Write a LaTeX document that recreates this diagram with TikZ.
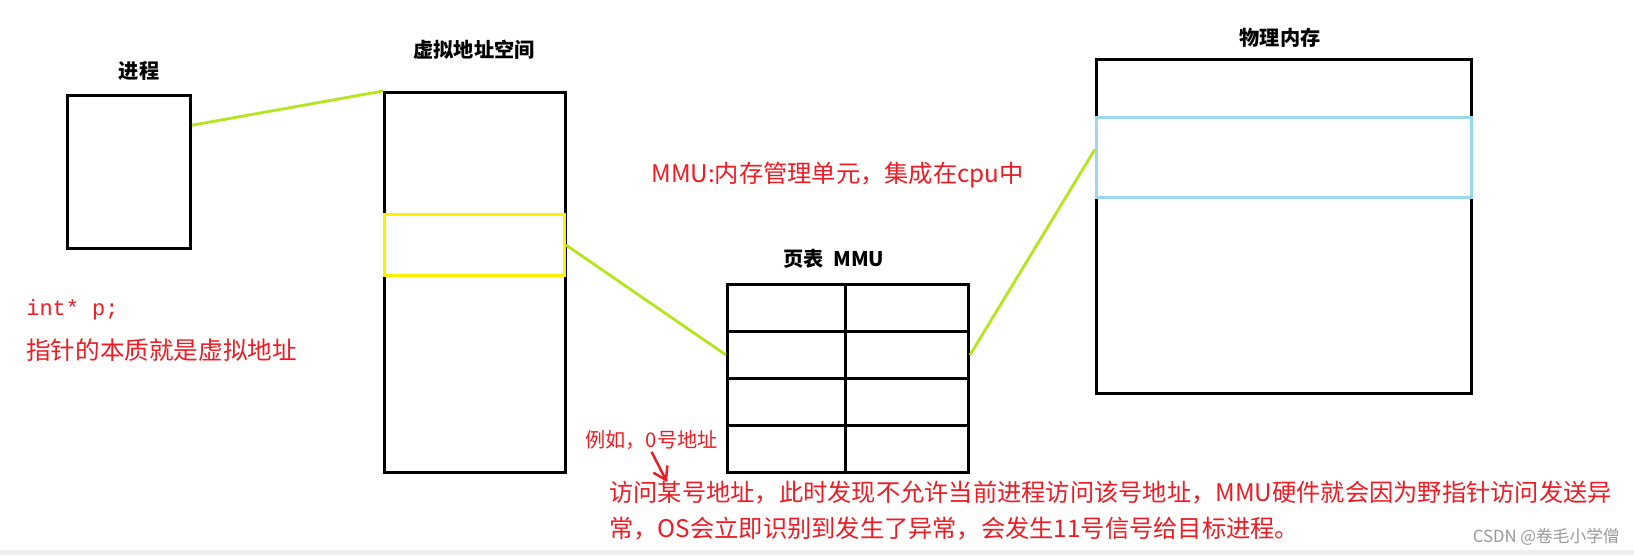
\documentclass[tikz,border=0pt]{standalone}
\usepackage{fontspec}
\setmainfont{Noto Sans CJK SC}
\setmonofont{Liberation Mono}
\usetikzlibrary{calc,arrows.meta}

\definecolor{paintred}{HTML}{ED1C24}
\definecolor{lime}{HTML}{B5E61D}
\definecolor{paintyellow}{HTML}{FFF200}
\definecolor{turq}{HTML}{99D9EA}

\tikzset{
  box/.style 2 args={draw=black, line width=1.7pt, inner sep=0pt,
    minimum width=#1*0.02cm, minimum height=#2*0.02cm, anchor=north west},
  title/.style={font=\bfseries\fontsize{11.5}{13}\selectfont, inner sep=0pt},
  note/.style={text=paintred, font=\fontsize{13.8}{16}\selectfont, inner sep=0pt, anchor=west},
  link/.style={draw=lime, line width=1.6pt},
}

\begin{document}
\begin{tikzpicture}[x=0.02cm, y=-0.02cm]
  \useasboundingbox (0,0) rectangle (1634,555);
  \fill[black!6] (0,550) rectangle (1634,555);

  % process
  \node[box={123}{153}] (proc) at (66,94) {};
  \node[title] (procname) at (139,71) {进程};

  % virtual address space
  \node[box={181}{380}] (vas) at (383,91) {};
  \node[box={180}{61}, draw=paintyellow] (virt) at (383,213) {};
  \node[title] (vasname) at (474,50) {虚拟地址空间};

  % page table
  \foreach \r in {1,...,4} {
    \node[box={118}{47}] (cell-\r-1) at (726,{283+47*(\r-1)}) {};
    \node[box={123}{47}] (cell-\r-2) at (844,{283+47*(\r-1)}) {};
  }
  \node[title] (tabname) at (834,259) {页表 \ MMU};

  % physical memory
  \node[box={375}{334}] (phys) at (1095,58) {};
  \node[box={375}{80}, draw=turq] (frame) at (1095,116) {};
  \node[title] (physname) at (1280,38) {物理内存};

  % mapping lines
  \draw[link] ($(proc.north east)!0.2!(proc.south east)$) -- (vas.north west);
  \draw[link] (virt.east) -- (cell-2-1.west);
  \draw[link] (cell-2-2.east) -- ($(frame.north west)!0.4!(frame.south west)$);

  % notes
  \node[note, font=\ttfamily\fontsize{12.5}{14}\selectfont] (ptr) at (26,310) {int* p;};
  \node[note, font=\fontsize{14}{17}\selectfont] (essence) at (26,350) {指针的本质就是虚拟地址};
  \node[note] (mmunote) at (651,175) {MMU:内存管理单元，集成在cpu中};
  \node[note, font=\fontsize{11.5}{13}\selectfont] (example) at (585,440) {例如，0号地址};
  \node[note] (warn1) at (609,493) {访问某号地址，此时发现不允许当前进程访问该号地址，MMU硬件就会因为野指针访问发送异};
  \node[note] (warn2) at (609,529) {常，OS会立即识别到发生了异常，会发生11号信号给目标进程。};
  \coordinate (hit) at (667,482);
  \draw[paintred, line width=1.4pt, -{Straight Barb[length=7pt, width=9pt]}] ($(example.south)+(0,2)$) -- (hit);

  % watermark
  \node[text=black!40, font=\fontsize{9.5}{11}\selectfont, inner sep=0pt, anchor=east] (mark) at (1620,537) {CSDN @卷毛小学僧};
\end{tikzpicture}
\end{document}
